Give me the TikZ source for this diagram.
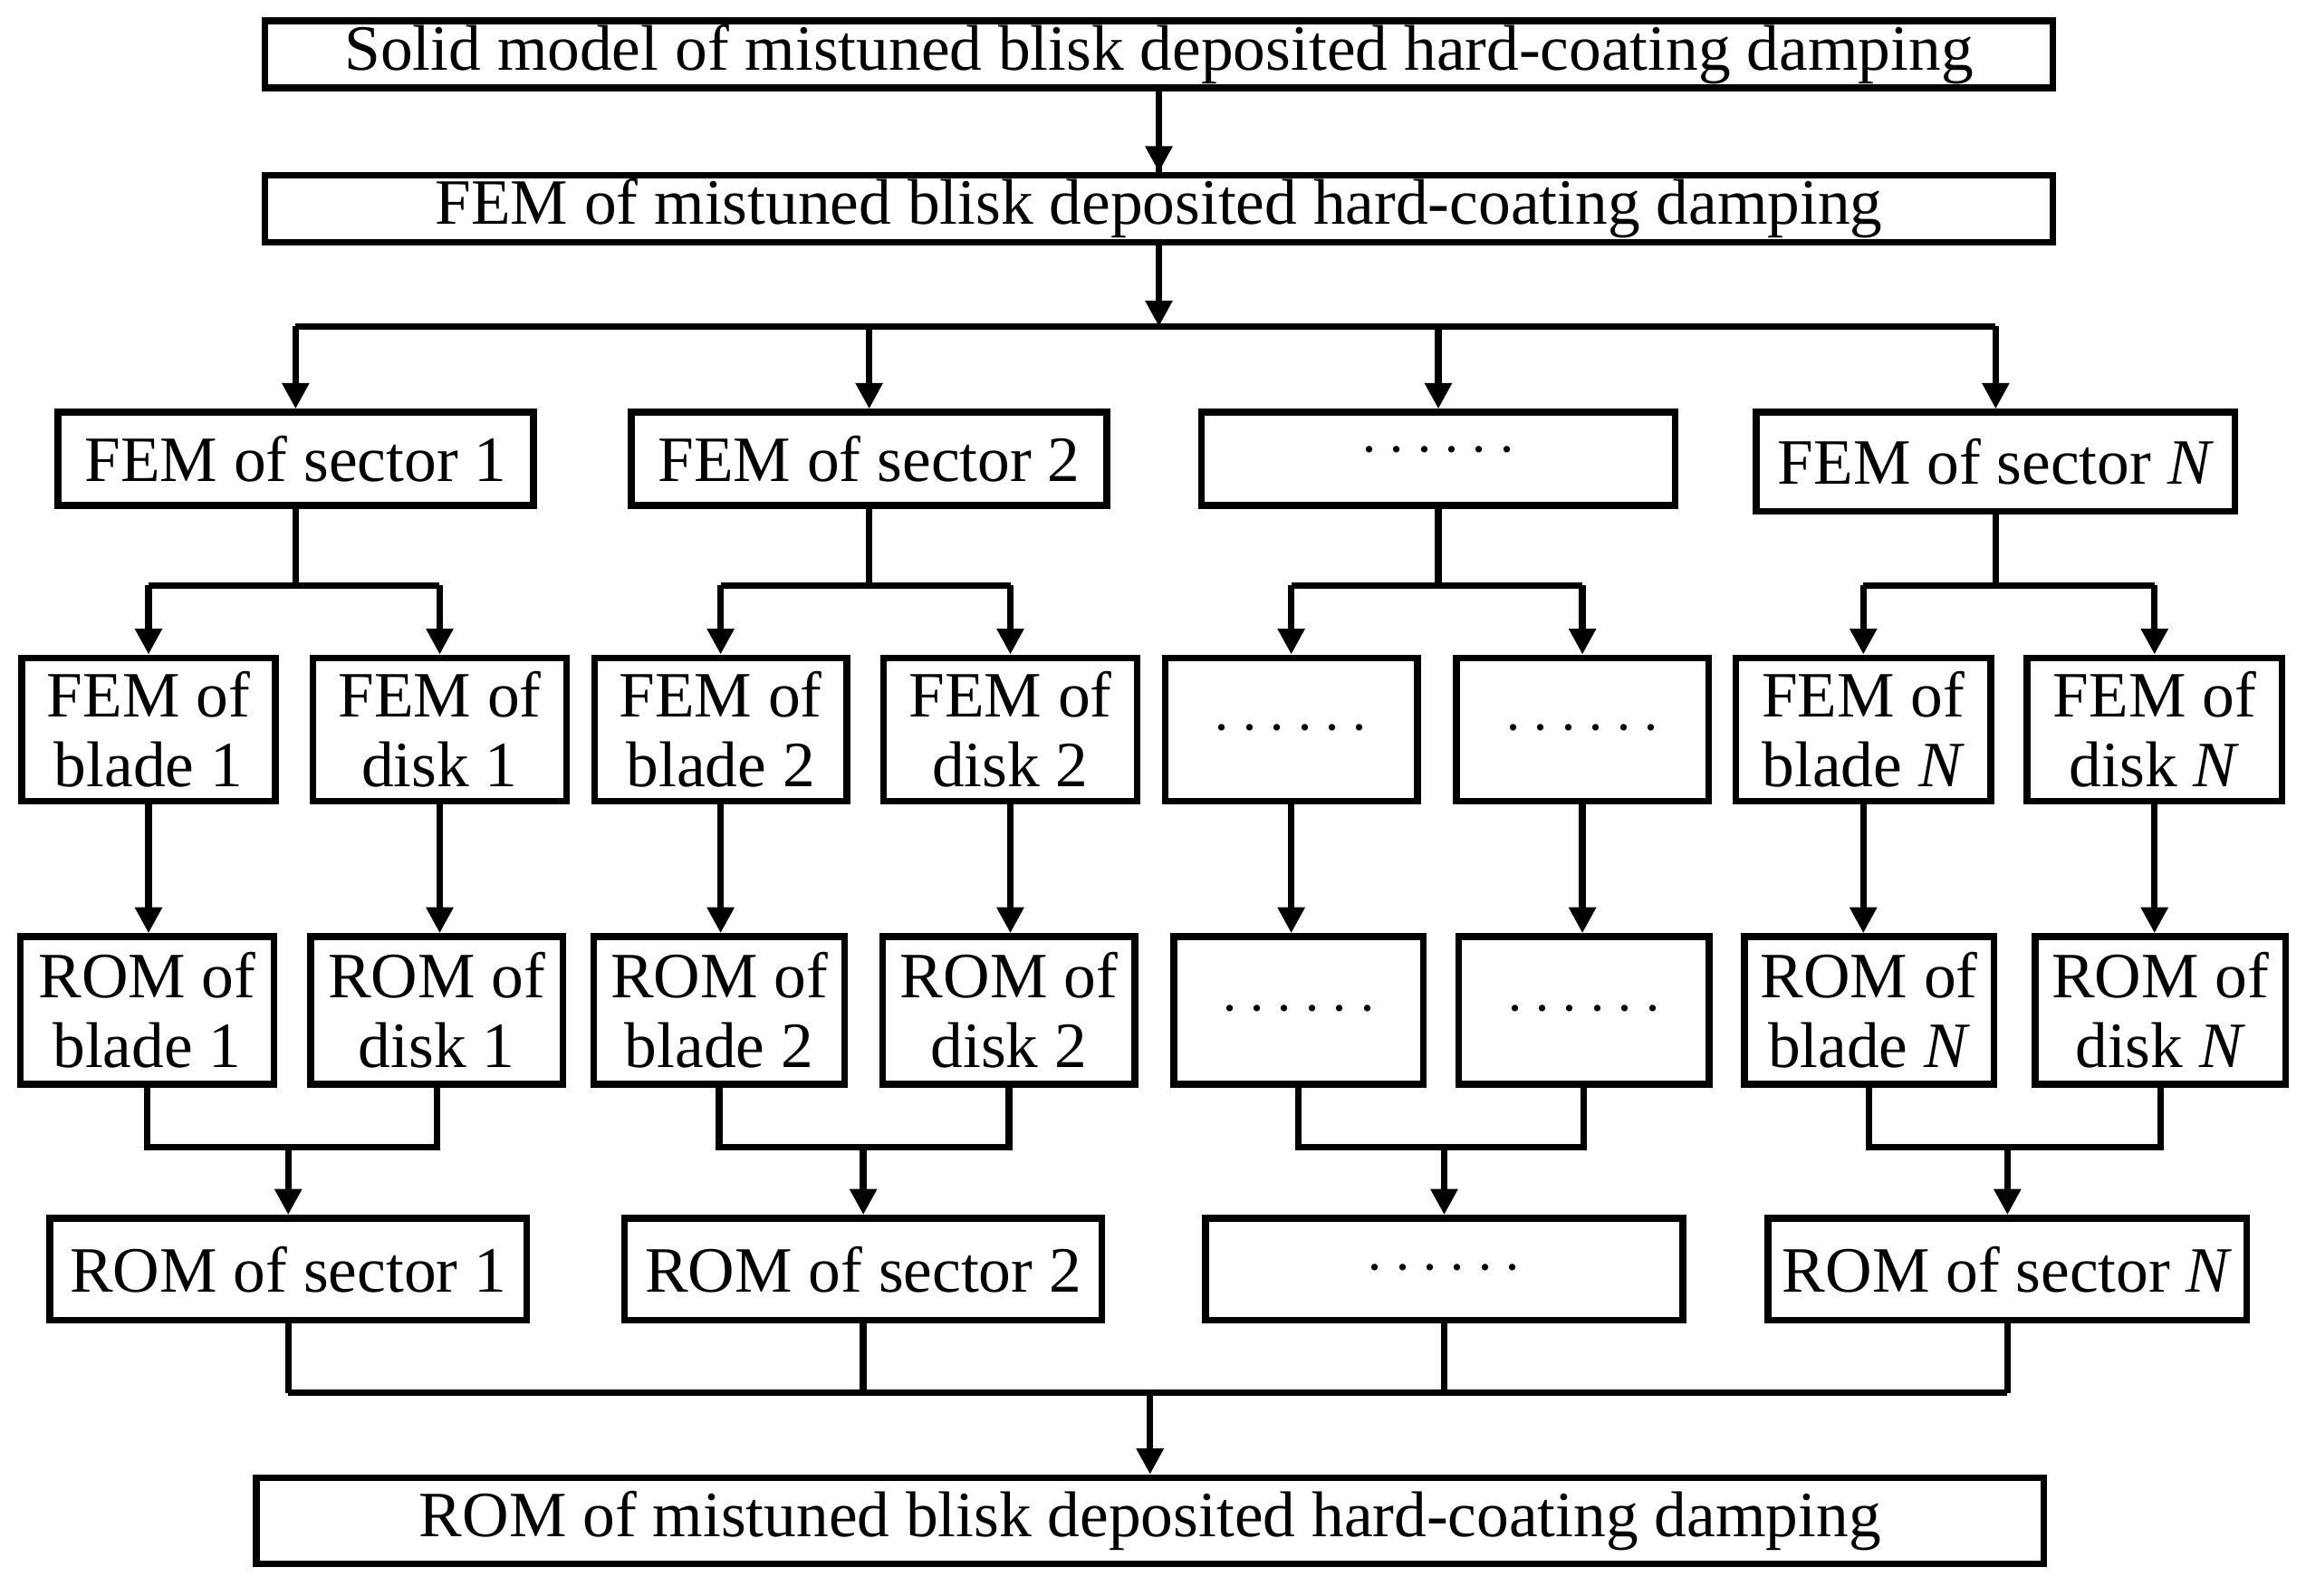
\documentclass[tikz,border=0pt]{standalone}
\usepackage{fontspec}
\setmainfont{Liberation Serif}
\usetikzlibrary{arrows.meta}
\begin{document}
\begin{tikzpicture}[x=0.01cm,y=-0.01cm,
  box/.style={draw,line width=1.3pt,inner sep=0pt,align=center,font=\fontsize{12.5}{13.5}\selectfont},
  ln/.style={line width=1.3pt},
  arr/.style={ln,-{Triangle[length=5pt,width=5pt]}}]
\useasboundingbox (0,0) rectangle (1568,1085);
\newcommand{\bx}[6]{\node[box,minimum width=#3*0.01cm - 1.3pt,minimum height=#4*0.01cm - 1.3pt] (#1) at (#2) {#5#6};}
% top
\bx{solid}{788,37}{1220}{50}{Solid model of mistuned blisk deposited hard-coating damping}{}
\bx{fem}{788,142}{1220}{50}{FEM of mistuned blisk deposited hard-coating damping}{}
\bx{s1}{201,312}{328}{68}{FEM of sector 1}{}
\bx{s2}{591,312}{328}{68}{FEM of sector 2}{}
\bx{s3}{978,312}{327}{68}{\raisebox{0.5ex}{\textbf{$\cdots\cdots$}}}{}
\bx{s4}{1357,314}{330}{72}{FEM of sector \textit{N}}{}
\bx{b1}{101,496}{177}{102}{FEM of\\blade 1}{}
\bx{d1}{299,496}{177}{102}{FEM of\\disk 1}{}
\bx{b2}{490,496}{176}{102}{FEM of\\blade 2}{}
\bx{d2}{687,496}{177}{102}{FEM of\\disk 2}{}
\bx{b3}{878,496}{176}{102}{$\cdots\cdots$}{}
\bx{d3}{1076,496}{176}{102}{$\cdots\cdots$}{}
\bx{b4}{1267,496}{178}{102}{FEM of\\blade \textit{N}}{}
\bx{d4}{1465,496}{178}{102}{FEM of\\disk \textit{N}}{}
\bx{rb1}{100,687}{177}{105}{ROM of\\blade 1}{}
\bx{rd1}{297,687}{176}{105}{ROM of\\disk 1}{}
\bx{rb2}{489,687}{175}{105}{ROM of\\blade 2}{}
\bx{rd2}{686,687}{176}{105}{ROM of\\disk 2}{}
\bx{rb3}{883,687}{174}{105}{$\cdots\cdots$}{}
\bx{rd3}{1077,687}{175}{105}{$\cdots\cdots$}{}
\bx{rb4}{1271,687}{174}{105}{ROM of\\blade \textit{N}}{}
\bx{rd4}{1469,687}{175}{105}{ROM of\\disk \textit{N}}{}
\bx{r1}{196,863}{329}{74}{ROM of sector 1}{}
\bx{r2}{587,863}{329}{74}{ROM of sector 2}{}
\bx{r3}{982,863}{329}{74}{$\cdots\cdots$}{}
\bx{r4}{1365,863}{330}{74}{ROM of sector \textit{N}}{}
\bx{rom}{782,1034}{1220}{63}{ROM of mistuned blisk deposited hard-coating damping}{}
% connectors
\draw[arr] (solid.south) -- (fem.south|-0,117) -- (fem.north);
\coordinate (busL) at (s1.north|-0,222);
\coordinate (busR) at (s4.north|-0,222);
\draw[ln] (busL) -- (busR);
\draw[arr] (fem.south) -- (fem.south|-busL);
\foreach \s in {s1,s2,s3,s4} \draw[arr] (\s.north|-busL) -- (\s.north);
\foreach \s/\b/\d in {s1/b1/d1,s2/b2/d2,s3/b3/d3,s4/b4/d4}{
  \draw[ln] (\s.south) -- (\s.south|-0,398);
  \draw[arr] (\b.north|-0,398) -- (\b.north);
  \draw[arr] (\d.north|-0,398) -- (\d.north);
  \draw[ln] (\b.north|-0,398) -- (\d.north|-0,398);
}
\foreach \b/\r in {b1/rb1,d1/rd1,b2/rb2,d2/rd2,b3/rb3,d3/rd3,b4/rb4,d4/rd4}
  \draw[arr] (\r.north-|\b.south) -- (\r.north-|\b.south) (\b.south) -- (\b.south|-\r.north);
\foreach \b/\d/\r in {rb1/rd1/r1,rb2/rd2/r2,rb3/rd3/r3,rb4/rd4/r4}{
  \draw[ln] (\b.south) -- (\b.south|-0,780) -- (\d.south|-0,780) -- (\d.south);
  \draw[arr] (\r.north|-0,780) -- (\r.north);
}
\foreach \r in {r1,r2,r3,r4} \draw[ln] (\r.south) -- (\r.south|-0,947);
\draw[ln] (r1.south|-0,947) -- (r4.south|-0,947);
\draw[arr] (rom.north|-0,947) -- (rom.north);
\end{tikzpicture}
\end{document}
